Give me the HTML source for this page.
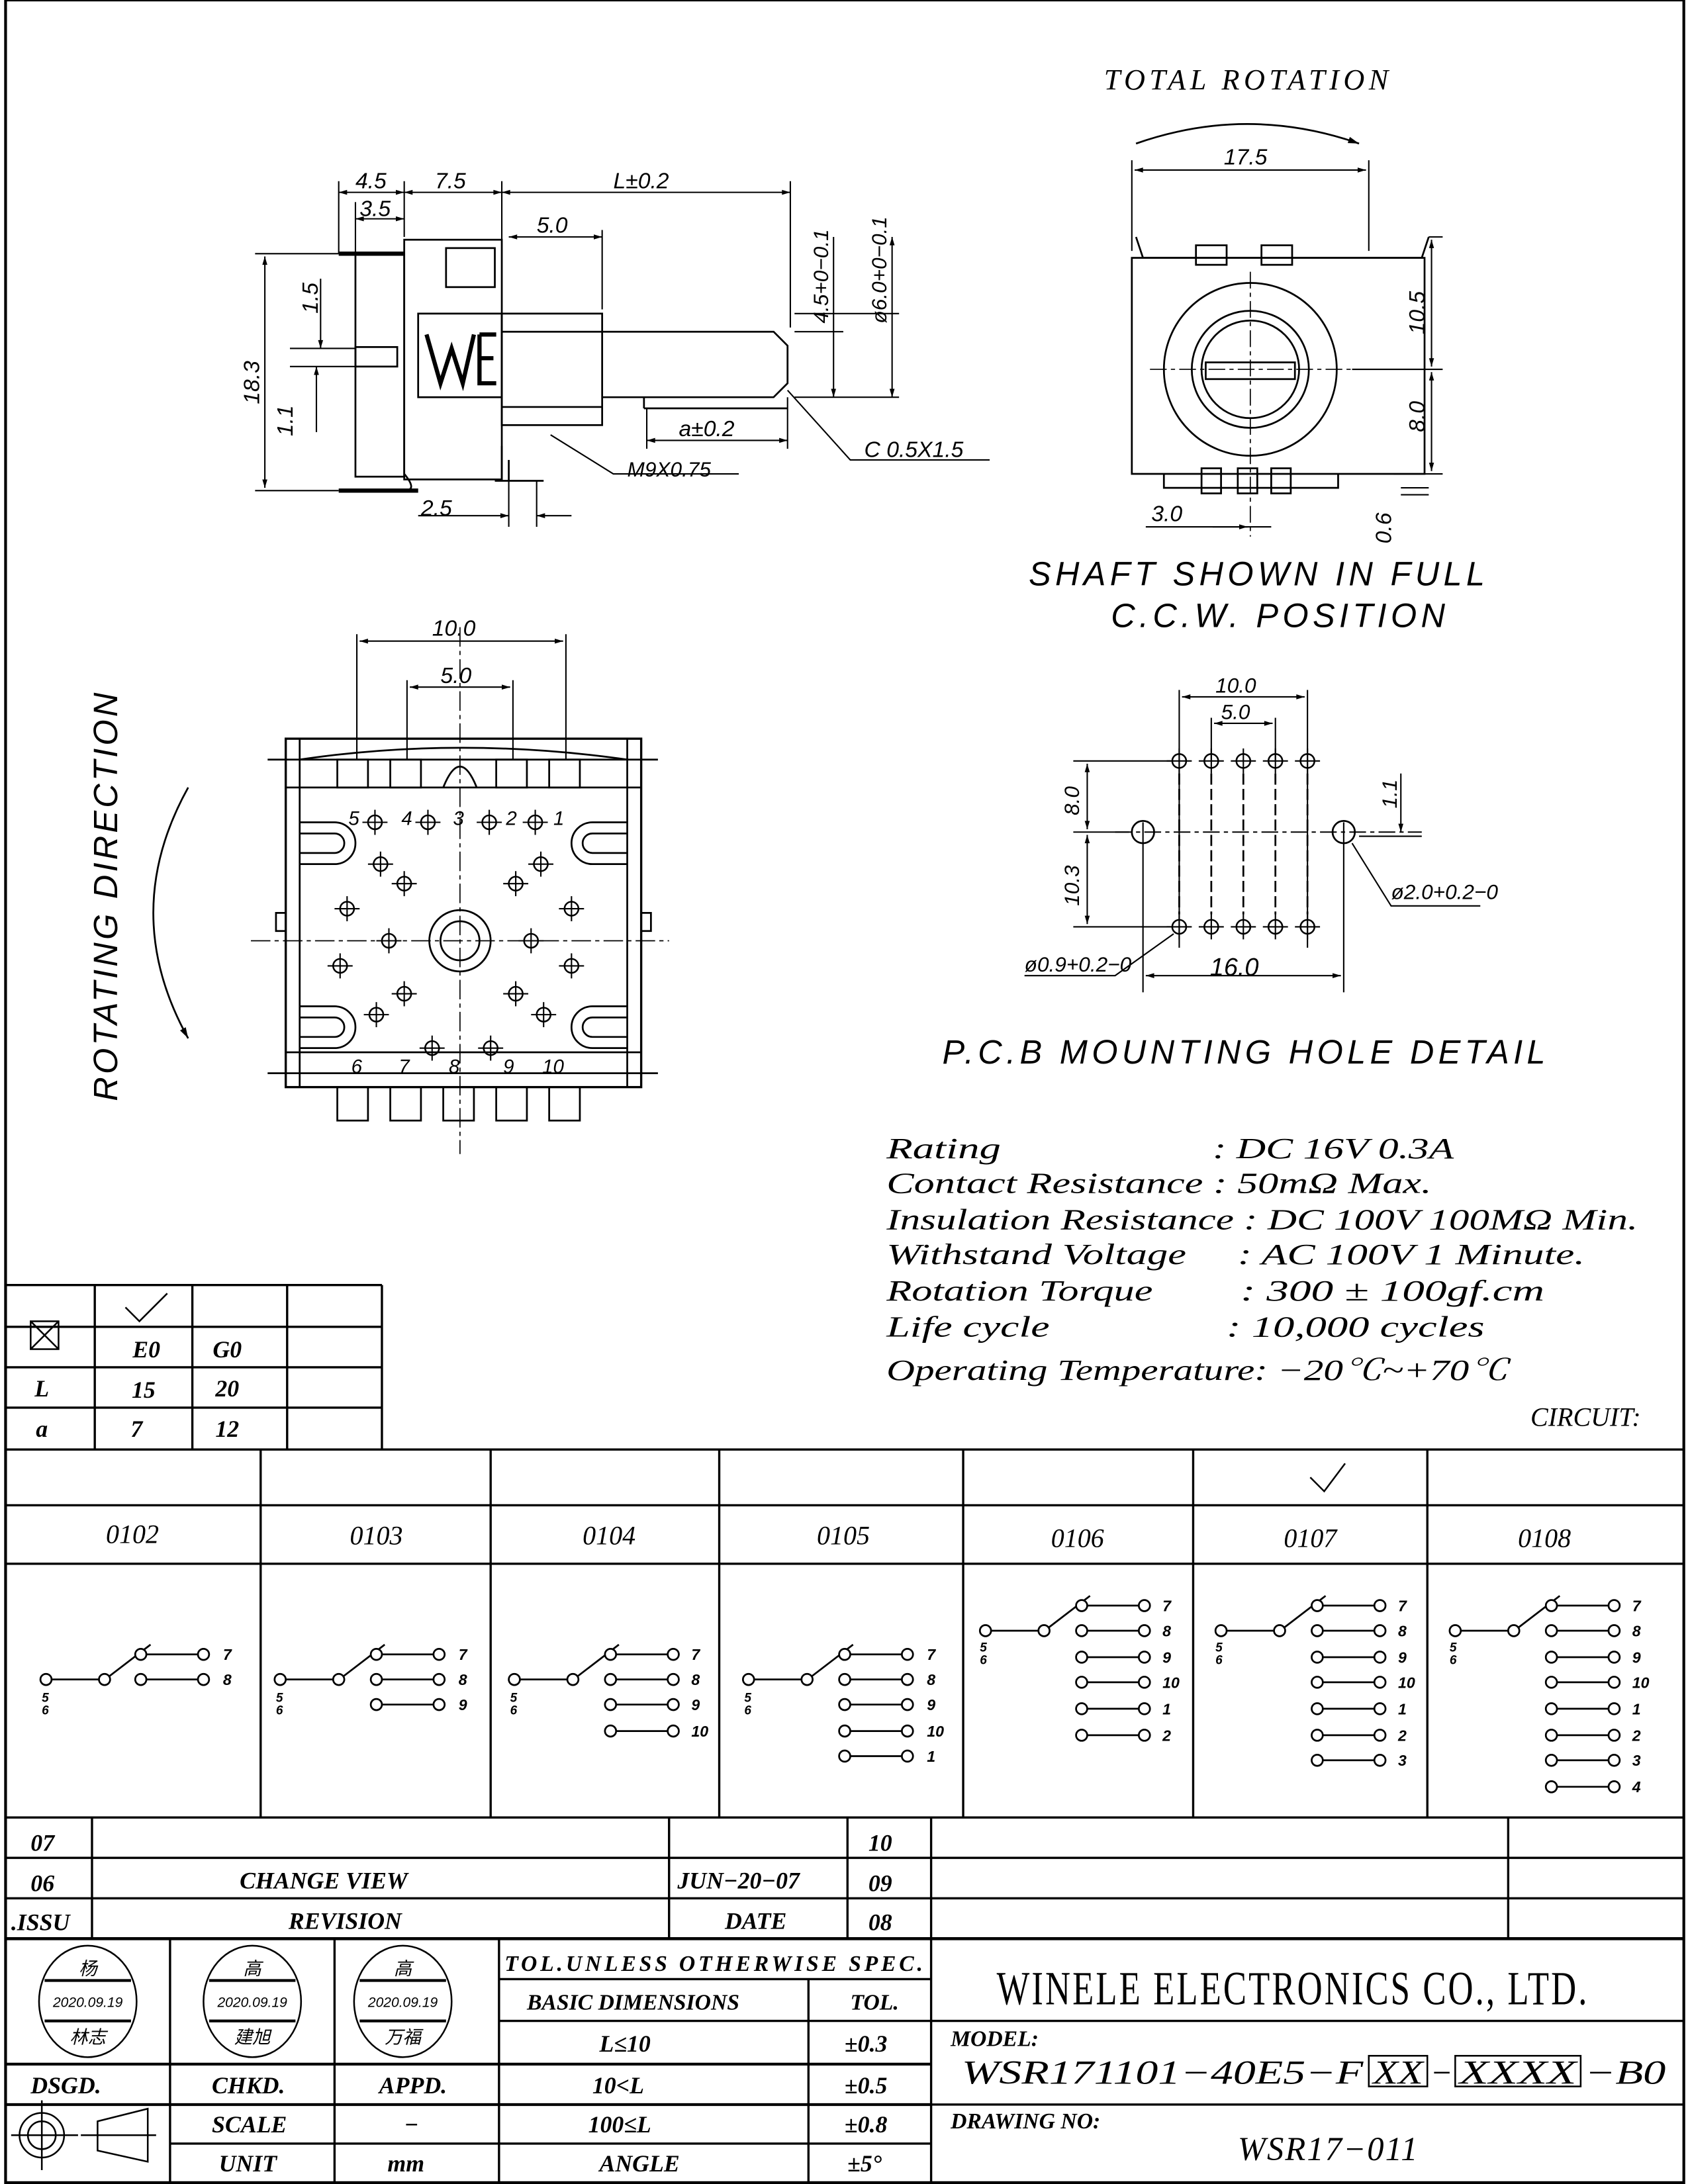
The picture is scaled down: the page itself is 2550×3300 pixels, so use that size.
<!DOCTYPE html>
<html><head><meta charset="utf-8"><style>
html,body{margin:0;padding:0;background:#fff}
svg{display:block}
text{font-family:"Liberation Sans","Noto Sans CJK SC",sans-serif;font-style:italic;fill:#000}
.s{font-family:"Liberation Serif","Noto Serif CJK SC",serif;}
</style></head><body>
<svg width="2550" height="3300" viewBox="0 0 1211 1567" preserveAspectRatio="none" xmlns="http://www.w3.org/2000/svg">
<defs>
<marker id="a" viewBox="0 0 10 10" refX="10" refY="5" markerWidth="8" markerHeight="6" orient="auto-start-reverse"><path d="M0,2L10,5L0,8z" fill="#000"/></marker>
<g id="oo"><circle cx="0" cy="0" r="4" fill="#fff" stroke="#000" stroke-width="1.3"/><line x1="4" y1="0" x2="41" y2="0" stroke="#000" stroke-width="1.3"/><circle cx="45" cy="0" r="4" fill="#fff" stroke="#000" stroke-width="1.3"/></g>
<g id="ph"><circle r="5" fill="none" stroke="#000" stroke-width="1.2"/><line x1="-9" y1="0" x2="9" y2="0" stroke="#000"/><line x1="0" y1="-9" x2="0" y2="9" stroke="#000"/></g>
</defs>
<g stroke="#000" fill="none" stroke-width="1.3">
<rect x="4" y="0" width="1204" height="1566" stroke-width="2"/>

<rect x="290" y="172" width="70" height="172"/>
<rect x="320" y="178" width="35" height="28"/>
<rect x="255" y="182" width="35" height="160"/>
<line x1="243" y1="182" x2="290" y2="182" stroke-width="3"/>
<line x1="243" y1="352" x2="300" y2="352" stroke-width="3"/>
<path d="M290 340 Q300 352 290 352"/>
<rect x="300" y="225" width="60" height="60"/>
<path d="M306 240 L316 275 L324 250 L332 275 L340 240 M344 240 L344 275 L356 275 M344 257 L354 257 M344 240 L356 240" stroke-width="3"/>
<rect x="255" y="249" width="30" height="14"/>
<rect x="360" y="225" width="72" height="80"/>
<line x1="360" y1="238" x2="432" y2="238"/><line x1="360" y1="292" x2="432" y2="292"/>
<path d="M432 238 L555 238 L565 248 L565 275 L555 285 L432 285"/>
<line x1="462" y1="285" x2="462" y2="293"/><line x1="462" y1="293" x2="565" y2="293"/>
<line x1="360" y1="320" x2="360" y2="345"/><line x1="365" y1="330" x2="365" y2="345"/>
<line x1="355" y1="345" x2="390" y2="345"/>
<line x1="243" y1="130" x2="243" y2="182" stroke-width="1"/><line x1="255" y1="145" x2="255" y2="182" stroke-width="1"/>
<line x1="290" y1="130" x2="290" y2="170" stroke-width="1"/><line x1="360" y1="130" x2="360" y2="222" stroke-width="1"/>
<line x1="567" y1="130" x2="567" y2="235" stroke-width="1"/>
<line x1="243" y1="138" x2="290" y2="138" marker-start="url(#a)" marker-end="url(#a)" stroke-width="1"/>
<line x1="290" y1="138" x2="360" y2="138" marker-start="url(#a)" marker-end="url(#a)" stroke-width="1"/>
<line x1="360" y1="138" x2="567" y2="138" marker-start="url(#a)" marker-end="url(#a)" stroke-width="1"/>
<line x1="255" y1="157" x2="290" y2="157" marker-start="url(#a)" marker-end="url(#a)" stroke-width="1"/>
<line x1="365" y1="170" x2="432" y2="170" marker-start="url(#a)" marker-end="url(#a)" stroke-width="1"/>
<line x1="432" y1="165" x2="432" y2="222" stroke-width="1"/>
<line x1="183" y1="182" x2="243" y2="182" stroke-width="1"/><line x1="183" y1="352" x2="243" y2="352" stroke-width="1"/>
<line x1="190" y1="184" x2="190" y2="350" marker-start="url(#a)" marker-end="url(#a)" stroke-width="1"/>
<line x1="208" y1="250" x2="255" y2="250" stroke-width="1"/><line x1="208" y1="263" x2="255" y2="263" stroke-width="1"/>
<line x1="230" y1="200" x2="230" y2="250" marker-end="url(#a)" stroke-width="1"/>
<line x1="227" y1="310" x2="227" y2="263" marker-end="url(#a)" stroke-width="1"/>
<line x1="570" y1="238" x2="605" y2="238" stroke-width="1"/><line x1="570" y1="285" x2="645" y2="285" stroke-width="1"/>
<line x1="570" y1="225" x2="645" y2="225" stroke-width="1"/>
<line x1="598" y1="170" x2="598" y2="285" marker-end="url(#a)" stroke-width="1"/>
<line x1="640" y1="170" x2="640" y2="285" marker-start="url(#a)" marker-end="url(#a)" stroke-width="1"/>
<line x1="464" y1="316" x2="565" y2="316" marker-start="url(#a)" marker-end="url(#a)" stroke-width="1"/>
<line x1="565" y1="285" x2="565" y2="322" stroke-width="1"/><line x1="464" y1="293" x2="464" y2="322" stroke-width="1"/>
<path d="M395 312 L440 340 L530 340" stroke-width="1"/>
<path d="M565 280 L610 330 L710 330" stroke-width="1"/>
<line x1="300" y1="370" x2="365" y2="370" marker-end="url(#a)" stroke-width="1"/>
<line x1="385" y1="370" x2="410" y2="370" marker-start="url(#a)" stroke-width="1"/>
<line x1="365" y1="345" x2="365" y2="378" stroke-width="1"/><line x1="385" y1="345" x2="385" y2="378" stroke-width="1"/>

<path d="M815 170 L820 185 L1020 185 L1025 170"/>
<rect x="812" y="185" width="210" height="155"/>
<rect x="858" y="176" width="22" height="14"/><rect x="905" y="176" width="22" height="14"/>
<path d="M835 340 L835 350 L960 350 L960 340"/>
<rect x="862" y="336" width="14" height="18"/><rect x="888" y="336" width="14" height="18"/><rect x="912" y="336" width="14" height="18"/>
<circle cx="897" cy="265" r="62"/><circle cx="897" cy="265" r="42"/><circle cx="897" cy="265" r="35"/>
<rect x="865" y="260" width="64" height="12"/>
<line x1="825" y1="265" x2="970" y2="265" stroke-width="0.8" stroke-dasharray="12 3 3 3"/>
<line x1="897" y1="195" x2="897" y2="385" stroke-width="0.8" stroke-dasharray="12 3 3 3"/>
<path d="M815 103 Q895 75 975 103" marker-end="url(#a)"/>
<line x1="812" y1="115" x2="812" y2="180" stroke-width="1"/><line x1="982" y1="115" x2="982" y2="180" stroke-width="1"/>
<line x1="814" y1="122" x2="980" y2="122" marker-start="url(#a)" marker-end="url(#a)" stroke-width="1"/>
<line x1="1025" y1="170" x2="1035" y2="170" stroke-width="1"/><line x1="970" y1="265" x2="1035" y2="265" stroke-width="1"/><line x1="1000" y1="340" x2="1035" y2="340" stroke-width="1"/>
<line x1="1027" y1="172" x2="1027" y2="263" marker-start="url(#a)" marker-end="url(#a)" stroke-width="1"/>
<line x1="1027" y1="267" x2="1027" y2="338" marker-start="url(#a)" marker-end="url(#a)" stroke-width="1"/>
<line x1="1005" y1="355" x2="1025" y2="355" stroke-width="1"/><line x1="1005" y1="350" x2="1025" y2="350" stroke-width="1"/>
<line x1="822" y1="378" x2="912" y2="378" stroke-width="1"/>
<line x1="870" y1="378" x2="895" y2="378" marker-end="url(#a)" stroke-width="1"/>

<rect x="205" y="530" width="255" height="250" stroke-width="1.6"/>
<line x1="192" y1="545" x2="472" y2="545"/><line x1="205" y1="565" x2="460" y2="565"/>
<line x1="205" y1="755" x2="460" y2="755"/><line x1="192" y1="770" x2="472" y2="770"/>
<line x1="215" y1="530" x2="215" y2="780"/><line x1="450" y1="530" x2="450" y2="780"/>
<path d="M215 545 Q330 528 450 545"/>
<rect x="242" y="545" width="22" height="20"/><rect x="280" y="545" width="22" height="20"/><rect x="356" y="545" width="22" height="20"/><rect x="394" y="545" width="22" height="20"/>
<path d="M318 565 Q330 535 342 565"/>
<rect x="242" y="780" width="22" height="24"/><rect x="280" y="780" width="22" height="24"/><rect x="318" y="780" width="22" height="24"/><rect x="356" y="780" width="22" height="24"/><rect x="394" y="780" width="22" height="24"/>
<path d="M215 590 L240 590 A15 15 0 0 1 240 620 L215 620"/><path d="M215 598 L240 598 A7 7 0 0 1 240 612 L215 612"/>
<path d="M450 590 L425 590 A15 15 0 0 0 425 620 L450 620"/><path d="M450 598 L425 598 A7 7 0 0 0 425 612 L450 612"/>
<path d="M215 722 L240 722 A15 15 0 0 1 240 752 L215 752"/><path d="M215 730 L240 730 A7 7 0 0 1 240 744 L215 744"/>
<path d="M450 722 L425 722 A15 15 0 0 0 425 752 L450 752"/><path d="M450 730 L425 730 A7 7 0 0 0 425 744 L450 744"/>
<circle cx="330" cy="675" r="22"/><circle cx="330" cy="675" r="14"/>
<line x1="180" y1="675" x2="480" y2="675" stroke-width="0.8" stroke-dasharray="14 3 3 3"/>
<line x1="330" y1="450" x2="330" y2="828" stroke-width="0.8" stroke-dasharray="14 3 3 3"/>
<path d="M205 655 L198 655 L198 668 L205 668"/><path d="M460 655 L467 655 L467 668 L460 668"/>
<path d="M135 565 Q85 655 135 745" marker-end="url(#a)"/>
<line x1="256" y1="455" x2="256" y2="545" stroke-width="1"/><line x1="406" y1="455" x2="406" y2="545" stroke-width="1"/>
<line x1="292" y1="488" x2="292" y2="545" stroke-width="1"/><line x1="368" y1="488" x2="368" y2="545" stroke-width="1"/>
<line x1="258" y1="460" x2="404" y2="460" marker-start="url(#a)" marker-end="url(#a)" stroke-width="1"/>
<line x1="294" y1="493" x2="366" y2="493" marker-start="url(#a)" marker-end="url(#a)" stroke-width="1"/>

<g stroke-width="1">
<line x1="846" y1="495" x2="846" y2="680"/><line x1="938" y1="495" x2="938" y2="680"/>
<line x1="869" y1="515" x2="869" y2="545"/><line x1="915" y1="515" x2="915" y2="545"/>
<line x1="848" y1="500" x2="936" y2="500" marker-start="url(#a)" marker-end="url(#a)"/>
<line x1="871" y1="519" x2="913" y2="519" marker-start="url(#a)" marker-end="url(#a)"/>
<line x1="820" y1="590" x2="820" y2="712"/><line x1="964" y1="590" x2="964" y2="712"/>
<line x1="822" y1="700" x2="962" y2="700" marker-start="url(#a)" marker-end="url(#a)"/>
<line x1="770" y1="546" x2="840" y2="546"/><line x1="770" y1="597" x2="810" y2="597"/><line x1="770" y1="665" x2="840" y2="665"/>
<line x1="780" y1="548" x2="780" y2="595" marker-start="url(#a)" marker-end="url(#a)"/>
<line x1="780" y1="599" x2="780" y2="663" marker-start="url(#a)" marker-end="url(#a)"/>
<line x1="800" y1="597" x2="1020" y2="597" stroke-dasharray="12 3 3 3"/>
<line x1="975" y1="600" x2="1020" y2="600"/>
<line x1="1005" y1="555" x2="1005" y2="597" marker-end="url(#a)"/>
<path d="M970 605 L998 650 L1062 650"/>
<path d="M842 670 L800 700 L735 700"/>
</g>
<g stroke-dasharray="8 3">
<line x1="846" y1="555" x2="846" y2="656"/><line x1="869" y1="555" x2="869" y2="656"/><line x1="892" y1="555" x2="892" y2="656"/><line x1="915" y1="555" x2="915" y2="656"/><line x1="938" y1="555" x2="938" y2="656"/>
</g>
<circle cx="820" cy="597" r="8"/><circle cx="964" cy="597" r="8"/>

<g stroke-width="1.6">
<line x1="4" y1="922" x2="274" y2="922"/><line x1="4" y1="952" x2="274" y2="952"/><line x1="4" y1="981" x2="274" y2="981"/><line x1="4" y1="1010" x2="274" y2="1010"/>
<line x1="68" y1="922" x2="68" y2="1040"/><line x1="138" y1="922" x2="138" y2="1040"/><line x1="206" y1="922" x2="206" y2="1040"/><line x1="274" y1="922" x2="274" y2="1040"/>
<rect x="22" y="948" width="20" height="20" stroke-width="1.2"/><line x1="22" y1="948" x2="42" y2="968" stroke-width="1.2"/><line x1="42" y1="948" x2="22" y2="968" stroke-width="1.2"/>
<path d="M90 938 L100 948 L120 928" stroke-width="1.2"/>
<path d="M940 1060 L950 1070 L965 1050" stroke-width="1.2"/>
<line x1="4" y1="1040" x2="1208" y2="1040"/><line x1="4" y1="1080" x2="1208" y2="1080"/><line x1="4" y1="1122" x2="1208" y2="1122"/><line x1="4" y1="1304" x2="1208" y2="1304"/>
<line x1="187" y1="1040" x2="187" y2="1304"/><line x1="352" y1="1040" x2="352" y2="1304"/><line x1="516" y1="1040" x2="516" y2="1304"/><line x1="691" y1="1040" x2="691" y2="1304"/><line x1="856" y1="1040" x2="856" y2="1304"/><line x1="1024" y1="1040" x2="1024" y2="1304"/>
<line x1="4" y1="1333" x2="668" y2="1333"/><line x1="4" y1="1362" x2="1208" y2="1362"/><line x1="4" y1="1391" x2="1208" y2="1391" stroke-width="2.2"/>
<line x1="668" y1="1333" x2="1208" y2="1333"/>
<line x1="66" y1="1304" x2="66" y2="1391"/><line x1="480" y1="1304" x2="480" y2="1391"/><line x1="608" y1="1304" x2="608" y2="1391"/><line x1="668" y1="1304" x2="668" y2="1566"/><line x1="1082" y1="1304" x2="1082" y2="1391"/>
<line x1="122" y1="1391" x2="122" y2="1566"/><line x1="240" y1="1391" x2="240" y2="1566"/><line x1="358" y1="1391" x2="358" y2="1566"/>
<line x1="4" y1="1481" x2="668" y2="1481" stroke-width="2"/><line x1="4" y1="1510" x2="668" y2="1510" stroke-width="2"/><line x1="122" y1="1538" x2="668" y2="1538"/>
<line x1="358" y1="1420" x2="668" y2="1420"/><line x1="358" y1="1450" x2="668" y2="1450"/>
<line x1="580" y1="1420" x2="580" y2="1566"/>
<line x1="668" y1="1450" x2="1208" y2="1450"/><line x1="668" y1="1510" x2="1208" y2="1510"/>
</g>
<g stroke-width="1.2">
<ellipse cx="63" cy="1436" rx="35" ry="40"/><line x1="32" y1="1421" x2="94" y2="1421" stroke-width="2"/><line x1="32" y1="1450" x2="94" y2="1450" stroke-width="2"/>
<ellipse cx="181" cy="1436" rx="35" ry="40"/><line x1="150" y1="1421" x2="212" y2="1421" stroke-width="2"/><line x1="150" y1="1450" x2="212" y2="1450" stroke-width="2"/>
<ellipse cx="289" cy="1436" rx="35" ry="40"/><line x1="258" y1="1421" x2="320" y2="1421" stroke-width="2"/><line x1="258" y1="1450" x2="320" y2="1450" stroke-width="2"/>
<circle cx="30" cy="1532" r="16"/><circle cx="30" cy="1532" r="10"/>
<line x1="8" y1="1532" x2="56" y2="1532"/><line x1="30" y1="1507" x2="30" y2="1557"/>
<line x1="58" y1="1532" x2="112" y2="1532"/><path d="M70 1522 L106 1513 L106 1551 L70 1543 Z"/>
<rect x="982" y="1475" width="42" height="22"/><rect x="1044" y="1475" width="90" height="22"/>
</g>
</g>

<g>
<use href="#ph" x="269" y="590"/><use href="#ph" x="307" y="590"/><use href="#ph" x="351" y="590"/><use href="#ph" x="384" y="590"/>
<use href="#ph" x="273" y="620"/><use href="#ph" x="388" y="620"/>
<use href="#ph" x="290" y="634"/><use href="#ph" x="370" y="634"/>
<use href="#ph" x="249" y="652"/><use href="#ph" x="410" y="652"/>
<use href="#ph" x="279" y="675"/><use href="#ph" x="381" y="675"/>
<use href="#ph" x="244" y="693"/><use href="#ph" x="410" y="693"/>
<use href="#ph" x="290" y="713"/><use href="#ph" x="370" y="713"/>
<use href="#ph" x="270" y="728"/><use href="#ph" x="390" y="728"/>
<use href="#ph" x="310" y="752"/><use href="#ph" x="352" y="752"/>
</g>
<g>
<use href="#ph" x="846" y="546"/><use href="#ph" x="869" y="546"/><use href="#ph" x="892" y="546"/><use href="#ph" x="915" y="546"/><use href="#ph" x="938" y="546"/>
<use href="#ph" x="846" y="665"/><use href="#ph" x="869" y="665"/><use href="#ph" x="892" y="665"/><use href="#ph" x="915" y="665"/><use href="#ph" x="938" y="665"/>
</g>

<g stroke="#000" stroke-width="1.3" fill="#fff">
<g transform="translate(4,0)">
<circle cx="29" cy="1205" r="4"/><line x1="33" y1="1205" x2="67" y2="1205"/><circle cx="71" cy="1205" r="4"/><line x1="74" y1="1203" x2="104" y2="1180"/>
<use href="#oo" x="97" y="1187"/><use href="#oo" x="97" y="1205"/></g>
<g transform="translate(187,0)">
<circle cx="14" cy="1205" r="4"/><line x1="18" y1="1205" x2="52" y2="1205"/><circle cx="56" cy="1205" r="4"/><line x1="59" y1="1203" x2="89" y2="1180"/>
<use href="#oo" x="83" y="1187"/><use href="#oo" x="83" y="1205"/><use href="#oo" x="83" y="1223"/></g>
<g transform="translate(352,0)">
<circle cx="17" cy="1205" r="4"/><line x1="21" y1="1205" x2="55" y2="1205"/><circle cx="59" cy="1205" r="4"/><line x1="62" y1="1203" x2="92" y2="1180"/>
<use href="#oo" x="86" y="1187"/><use href="#oo" x="86" y="1205"/><use href="#oo" x="86" y="1223"/><use href="#oo" x="86" y="1242"/></g>
<g transform="translate(516,0)">
<circle cx="21" cy="1205" r="4"/><line x1="25" y1="1205" x2="59" y2="1205"/><circle cx="63" cy="1205" r="4"/><line x1="66" y1="1203" x2="96" y2="1180"/>
<use href="#oo" x="90" y="1187"/><use href="#oo" x="90" y="1205"/><use href="#oo" x="90" y="1223"/><use href="#oo" x="90" y="1242"/><use href="#oo" x="90" y="1260"/></g>
<g transform="translate(691,0)">
<circle cx="16" cy="1170" r="4"/><line x1="20" y1="1170" x2="54" y2="1170"/><circle cx="58" cy="1170" r="4"/><line x1="61" y1="1168" x2="91" y2="1145"/>
<use href="#oo" x="85" y="1152"/><use href="#oo" x="85" y="1170"/><use href="#oo" x="85" y="1189"/><use href="#oo" x="85" y="1207"/><use href="#oo" x="85" y="1226"/><use href="#oo" x="85" y="1245"/></g>
<g transform="translate(856,0)">
<circle cx="20" cy="1170" r="4"/><line x1="24" y1="1170" x2="58" y2="1170"/><circle cx="62" cy="1170" r="4"/><line x1="65" y1="1168" x2="95" y2="1145"/>
<use href="#oo" x="89" y="1152"/><use href="#oo" x="89" y="1170"/><use href="#oo" x="89" y="1189"/><use href="#oo" x="89" y="1207"/><use href="#oo" x="89" y="1226"/><use href="#oo" x="89" y="1245"/><use href="#oo" x="89" y="1263"/></g>
<g transform="translate(1024,0)">
<circle cx="20" cy="1170" r="4"/><line x1="24" y1="1170" x2="58" y2="1170"/><circle cx="62" cy="1170" r="4"/><line x1="65" y1="1168" x2="95" y2="1145"/>
<use href="#oo" x="89" y="1152"/><use href="#oo" x="89" y="1170"/><use href="#oo" x="89" y="1189"/><use href="#oo" x="89" y="1207"/><use href="#oo" x="89" y="1226"/><use href="#oo" x="89" y="1245"/><use href="#oo" x="89" y="1263"/><use href="#oo" x="89" y="1282"/></g>
</g>
<g font-size="11" style="font-style:normal" font-weight="bold">
<text x="160" y="1191">7</text><text x="160" y="1209">8</text>
<text x="329" y="1191">7</text><text x="329" y="1209">8</text><text x="329" y="1227">9</text>
<text x="496" y="1191">7</text><text x="496" y="1209">8</text><text x="496" y="1227">9</text><text x="496" y="1246">10</text>
<text x="665" y="1191">7</text><text x="665" y="1209">8</text><text x="665" y="1227">9</text><text x="665" y="1246">10</text><text x="665" y="1264">1</text>
<text x="834" y="1156">7</text><text x="834" y="1174">8</text><text x="834" y="1193">9</text><text x="834" y="1211">10</text><text x="834" y="1230">1</text><text x="834" y="1249">2</text>
<text x="1003" y="1156">7</text><text x="1003" y="1174">8</text><text x="1003" y="1193">9</text><text x="1003" y="1211">10</text><text x="1003" y="1230">1</text><text x="1003" y="1249">2</text><text x="1003" y="1267">3</text>
<text x="1171" y="1156">7</text><text x="1171" y="1174">8</text><text x="1171" y="1193">9</text><text x="1171" y="1211">10</text><text x="1171" y="1230">1</text><text x="1171" y="1249">2</text><text x="1171" y="1267">3</text><text x="1171" y="1286">4</text>
<g font-size="9"><text x="30" y="1221">5</text><text x="30" y="1230">6</text>
<text x="198" y="1221">5</text><text x="198" y="1230">6</text>
<text x="366" y="1221">5</text><text x="366" y="1230">6</text>
<text x="534" y="1221">5</text><text x="534" y="1230">6</text>
<text x="703" y="1185">5</text><text x="703" y="1194">6</text>
<text x="872" y="1185">5</text><text x="872" y="1194">6</text>
<text x="1040" y="1185">5</text><text x="1040" y="1194">6</text></g>
</g>

<g font-size="18" class="s">
<text x="792" y="64" font-size="21" letter-spacing="2" class="s" textLength="206">TOTAL ROTATION</text>
<text x="878" y="118" font-size="16">17.5</text>
<text x="255" y="135" font-size="16">4.5</text><text x="312" y="135" font-size="16">7.5</text><text x="440" y="135" font-size="16">L±0.2</text>
<text x="258" y="155" font-size="16">3.5</text><text x="385" y="167" font-size="16">5.0</text>
<text x="487" y="313" font-size="16">a±0.2</text>
<text x="450" y="342" font-size="15">M9X0.75</text>
<text x="620" y="328" font-size="16">C 0.5X1.5</text>
<text x="302" y="370" font-size="16">2.5</text>
<text x="826" y="374" font-size="16">3.0</text>
<text font-size="16" transform="translate(186,290) rotate(-90)">18.3</text>
<text font-size="16" transform="translate(228,225) rotate(-90)">1.5</text>
<text font-size="16" transform="translate(210,313) rotate(-90)">1.1</text>
<text font-size="15" transform="translate(594,232) rotate(-90)">4.5+0−0.1</text>
<text font-size="15" transform="translate(636,232) rotate(-90)">ø6.0+0−0.1</text>
<text font-size="16" transform="translate(1022,240) rotate(-90)">10.5</text>
<text font-size="16" transform="translate(1022,310) rotate(-90)">8.0</text>
<text font-size="16" transform="translate(998,390) rotate(-90)">0.6</text>
<text x="738" y="420" font-size="24" letter-spacing="3">SHAFT SHOWN IN FULL</text>
<text x="797" y="450" font-size="24" letter-spacing="3">C.C.W. POSITION</text>
<text x="310" y="456" font-size="16">10.0</text><text x="316" y="490" font-size="16">5.0</text>
<text font-size="24" letter-spacing="2" transform="translate(84,790) rotate(-90)">ROTATING DIRECTION</text>
<text x="872" y="497" font-size="15">10.0</text><text x="876" y="516" font-size="15">5.0</text>
<text font-size="15" transform="translate(774,585) rotate(-90)">8.0</text>
<text font-size="15" transform="translate(774,650) rotate(-90)">10.3</text>
<text font-size="15" transform="translate(1002,580) rotate(-90)">1.1</text>
<text x="998" y="645" font-size="15">ø2.0+0.2−0</text>
<text x="735" y="697" font-size="15">ø0.9+0.2−0</text>
<text x="868" y="700" font-size="18">16.0</text>
<text x="676" y="763" font-size="24" letter-spacing="3">P.C.B MOUNTING HOLE DETAIL</text>
</g>
<g font-size="14" style="font-style:normal">
<text x="250" y="592">5</text><text x="288" y="592">4</text><text x="325" y="592">3</text><text x="363" y="592">2</text><text x="397" y="592">1</text>
<text x="252" y="770">6</text><text x="286" y="770">7</text><text x="322" y="770">8</text><text x="361" y="770">9</text><text x="389" y="770">10</text>
</g>
<g font-size="21" class="s">
<text x="636" y="831" class="s" textLength="82" lengthAdjust="spacingAndGlyphs">Rating</text><text x="870" y="831" class="s" textLength="173" lengthAdjust="spacingAndGlyphs">: DC 16V 0.3A</text>
<text x="636" y="856" class="s" textLength="391" lengthAdjust="spacingAndGlyphs">Contact Resistance : 50mΩ Max.</text>
<text x="636" y="882" class="s" textLength="539" lengthAdjust="spacingAndGlyphs">Insulation Resistance : DC 100V 100MΩ Min.</text>
<text x="636" y="907" class="s" textLength="215" lengthAdjust="spacingAndGlyphs">Withstand Voltage</text><text x="888" y="907" class="s" textLength="249" lengthAdjust="spacingAndGlyphs">: AC 100V 1 Minute.</text>
<text x="636" y="933" class="s" textLength="191" lengthAdjust="spacingAndGlyphs">Rotation Torque</text><text x="890" y="933" class="s" textLength="218" lengthAdjust="spacingAndGlyphs">: 300 ± 100gf.cm</text>
<text x="636" y="959" class="s" textLength="117" lengthAdjust="spacingAndGlyphs">Life cycle</text><text x="880" y="959" class="s" textLength="185" lengthAdjust="spacingAndGlyphs">: 10,000 cycles</text>
<text x="636" y="990" class="s" textLength="446" lengthAdjust="spacingAndGlyphs">Operating Temperature: −20℃~+70℃</text>
<text x="1098" y="1023" class="s" font-size="19">CIRCUIT:</text>
</g>
<g font-size="17" class="s" font-weight="bold" text-anchor="middle">
<text x="105" y="974" class="s">E0</text><text x="163" y="974" class="s">G0</text>
<text x="30" y="1002" class="s">L</text><text x="103" y="1003" class="s">15</text><text x="163" y="1002" class="s">20</text>
<text x="30" y="1031" class="s">a</text><text x="98" y="1031" class="s">7</text><text x="163" y="1031" class="s">12</text>
</g>
<g font-size="19" text-anchor="middle" class="s">
<text x="95" y="1107" class="s">0102</text><text x="270" y="1108" class="s">0103</text><text x="437" y="1108" class="s">0104</text><text x="605" y="1108" class="s">0105</text><text x="773" y="1110" class="s">0106</text><text x="940" y="1110" class="s">0107</text><text x="1108" y="1110" class="s">0108</text>
</g>
<g font-size="17" class="s" font-weight="bold">
<text x="22" y="1328" class="s">07</text><text x="22" y="1357" class="s">06</text><text x="8" y="1385" class="s">.ISSU</text>
<text x="172" y="1355" class="s">CHANGE VIEW</text><text x="207" y="1384" class="s">REVISION</text>
<text x="486" y="1355" class="s">JUN−20−07</text><text x="520" y="1384" class="s">DATE</text>
<text x="623" y="1328" class="s">10</text><text x="623" y="1357" class="s">09</text><text x="623" y="1385" class="s">08</text>
<text x="362" y="1414" font-size="16" class="s" textLength="300">TOL.UNLESS OTHERWISE SPEC.</text>
<text x="378" y="1442" font-size="16" class="s">BASIC DIMENSIONS</text><text x="610" y="1442" font-size="16" class="s">TOL.</text>
<text x="430" y="1472" class="s">L≤10</text><text x="606" y="1472" class="s">±0.3</text>
<text x="425" y="1502" class="s">10&lt;L</text><text x="606" y="1502" class="s">±0.5</text>
<text x="422" y="1530" class="s">100≤L</text><text x="606" y="1530" class="s">±0.8</text>
<text x="430" y="1558" class="s">ANGLE</text><text x="608" y="1558" class="s">±5°</text>
<text x="22" y="1502" class="s">DSGD.</text><text x="152" y="1502" class="s">CHKD.</text><text x="272" y="1502" class="s">APPD.</text>
<text x="152" y="1530" class="s">SCALE</text><text x="290" y="1530" class="s">−</text>
<text x="157" y="1558" class="s">UNIT</text><text x="278" y="1558" class="s">mm</text>
<text x="682" y="1468" font-size="16" class="s">MODEL:</text>
<text x="682" y="1527" font-size="16" class="s">DRAWING NO:</text>
</g>
<g style="font-style:normal" text-anchor="middle" font-size="10">
<text x="63" y="1440">2020.09.19</text><text x="181" y="1440">2020.09.19</text><text x="289" y="1440">2020.09.19</text>
<text x="63" y="1417" font-size="13">杨</text><text x="181" y="1417" font-size="13">高</text><text x="289" y="1417" font-size="13">高</text>
<text x="63" y="1466" font-size="13">林志</text><text x="181" y="1466" font-size="13">建旭</text><text x="289" y="1466" font-size="13">万福</text>
</g>
<text x="715" y="1438" font-size="34" class="s" style="font-style:normal" textLength="425" lengthAdjust="spacingAndGlyphs" letter-spacing="2">WINELE ELECTRONICS CO., LTD.</text>
<g font-size="24" class="s">
<text x="690" y="1495" class="s" textLength="288" lengthAdjust="spacingAndGlyphs">WSR171101−40E5−F</text>
<text x="985" y="1495" class="s" textLength="36" lengthAdjust="spacingAndGlyphs">XX</text>
<text x="1026" y="1495" class="s">−</text>
<text x="1047" y="1495" class="s" textLength="84" lengthAdjust="spacingAndGlyphs">XXXX</text>
<text x="1137" y="1495" class="s" textLength="58" lengthAdjust="spacingAndGlyphs">−B0</text>
</g>
<text x="888" y="1550" font-size="24" class="s" letter-spacing="1">WSR17−011</text>
</svg>
</body></html>
